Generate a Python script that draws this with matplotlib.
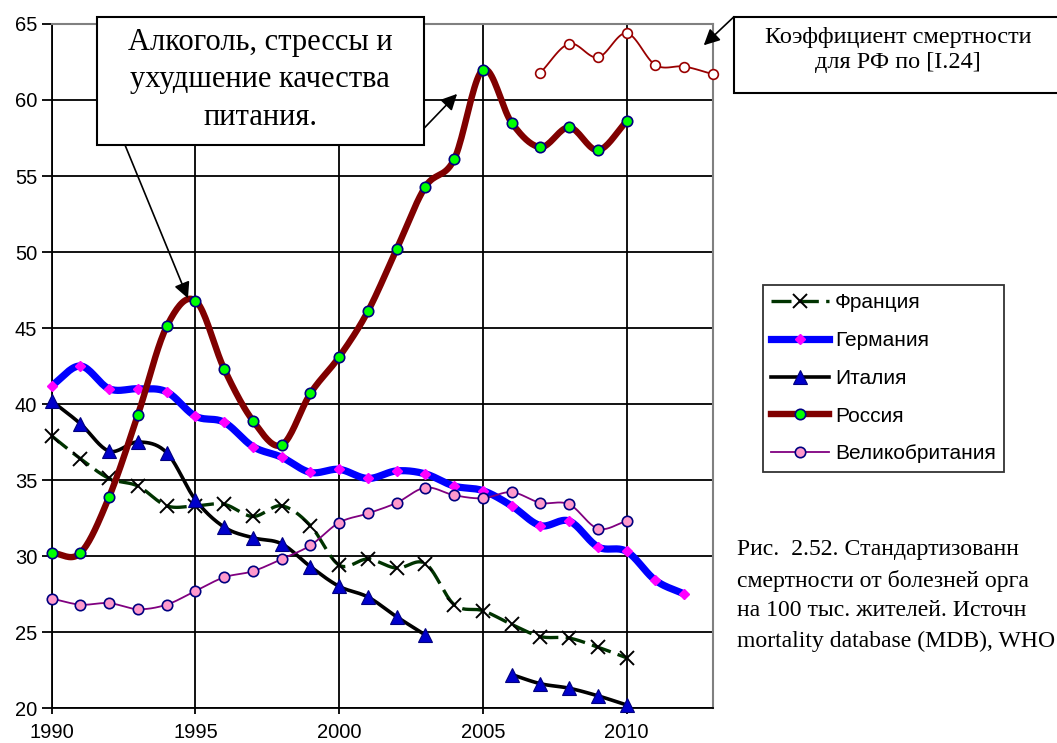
import numpy as np
import matplotlib
matplotlib.use("Agg")
import matplotlib.pyplot as plt
from matplotlib.patches import Rectangle
from matplotlib.lines import Line2D

# ---------------------------------------------------------------- data
years = list(range(1990, 2011))
years_de = list(range(1990, 2013))
france = [37.9, 36.4, 35.1, 34.6, 33.3, 33.3, 33.4, 32.6, 33.3, 32.0, 29.4,
          29.8, 29.2, 29.5, 26.8, 26.4, 25.5, 24.7, 24.6, 24.0, 23.3]
germany = [41.2, 42.5, 41.0, 41.0, 40.8, 39.2, 38.8, 37.2, 36.5, 35.5, 35.7,
           35.1, 35.6, 35.4, 34.6, 34.3, 33.3, 32.0, 32.3, 30.6, 30.3,
           28.4, 27.5]
italy = [40.2, 38.7, 36.9, 37.5, 36.8, 33.7, 31.9, 31.2, 30.8, 29.3, 28.0,
         27.3, 26.0, 24.8, None, None, 22.2, 21.6, 21.3, 20.8, 20.2]
russia = [30.2, 30.2, 33.9, 39.3, 45.1, 46.8, 42.3, 38.9, 37.3, 40.7, 43.1,
          46.1, 50.2, 54.3, 56.1, 62.0, 58.5, 56.9, 58.2, 56.7, 58.6]
uk = [27.2, 26.8, 26.9, 26.5, 26.8, 27.7, 28.6, 29.0, 29.8, 30.7, 32.2,
      32.8, 33.5, 34.5, 34.0, 33.8, 34.2, 33.5, 33.4, 31.8, 32.3]
rf_years = list(range(2007, 2014))
rf_coef = [61.8, 63.7, 62.8, 64.4, 62.3, 62.2, 61.7]

labels = ["Франция", "Германия", "Италия", "Россия", "Великобритания"]


def segments(xs, ys):
    """Split a series at missing values."""
    seg_x, seg_y = [], []
    for x, y in zip(xs, ys):
        if y is None:
            if seg_x:
                yield seg_x, seg_y
            seg_x, seg_y = [], []
        else:
            seg_x.append(x)
            seg_y.append(y)
    if seg_x:
        yield seg_x, seg_y


def smooth(xs, ys, n=20):
    """Catmull-Rom curve through the points (like Excel's smoothed line)."""
    x = np.asarray(xs, float)
    y = np.asarray(ys, float)
    if len(x) < 3:
        return x, y
    px = np.concatenate([[2 * x[0] - x[1]], x, [2 * x[-1] - x[-2]]])
    py = np.concatenate([[2 * y[0] - y[1]], y, [2 * y[-1] - y[-2]]])
    t = np.linspace(0, 1, n, endpoint=False)[:, None]
    out = []
    for i in range(1, len(px) - 2):
        p = np.array([[px[j], py[j]] for j in range(i - 1, i + 3)])
        seg = 0.5 * (2 * p[1] + (-p[0] + p[2]) * t
                     + (2 * p[0] - 5 * p[1] + 4 * p[2] - p[3]) * t ** 2
                     + (-p[0] + 3 * p[1] - 3 * p[2] + p[3]) * t ** 3)
        out.append(seg)
    out.append(np.array([[x[-1], y[-1]]]))
    out = np.vstack(out)
    return out[:, 0], out[:, 1]


def draw(ax, xs, ys, line_kw, marker_kw):
    for sx, sy in segments(xs, ys):
        cx, cy = smooth(sx, sy)
        ax.plot(cx, cy, solid_capstyle="round", **line_kw)
        ax.plot(sx, sy, ls="none", clip_on=False, **marker_kw)


# ---------------------------------------------------------------- styles
FR_LINE = dict(color="#003300", lw=2.4, ls=(0, (6, 2.2)), zorder=3)
FR_MARK = dict(marker="x", ms=9.5, mew=1.4, color="black", zorder=3.1)
DE_LINE = dict(color="#0000ff", lw=5.2, zorder=4)
DE_MARK = dict(marker="D", ms=5.5, color="#ff00ff", mec="#ff00ff", zorder=4.1)
IT_LINE = dict(color="black", lw=2.6, zorder=5)
IT_MARK = dict(marker="^", ms=9.5, color="#0000cc", mec="#000080", mew=0.8,
               zorder=5.1)
RU_LINE = dict(color="#800000", lw=4.6, zorder=6)
RU_MARK = dict(marker="o", ms=7.5, color="#00ff00", mec="#000080", mew=1.2,
               zorder=6.1)
UK_LINE = dict(color="#800080", lw=1.3, zorder=7)
UK_MARK = dict(marker="o", ms=7.5, color="#ff99cc", mec="#000080", mew=1.2,
               zorder=7.1)
RF_LINE = dict(color="#990000", lw=1.3, zorder=6)
RF_MARK = dict(marker="o", ms=7, color="white", mec="#990000", mew=1.2,
               zorder=6.1)

SANS = "Liberation Sans"
SERIF = "Liberation Serif"

fig = plt.figure(figsize=(10.57, 7.43), dpi=100)
fig.patch.set_facecolor("white")
ax = fig.add_axes([0.0489, 0.0471, 0.6256, 0.9206])

draw(ax, years, france, FR_LINE, FR_MARK)
draw(ax, years_de, germany, DE_LINE, DE_MARK)
draw(ax, years, italy, IT_LINE, IT_MARK)
draw(ax, years, russia, RU_LINE, RU_MARK)
draw(ax, years, uk, UK_LINE, UK_MARK)
draw(ax, rf_years, rf_coef, RF_LINE, RF_MARK)

ax.set_xlim(1990, 2013)
ax.set_ylim(20, 65)
ax.set_xticks(range(1990, 2011, 5))
ax.set_yticks(range(20, 66, 5))
ax.grid(True, color="black", lw=1.3, zorder=1)
ax.set_axisbelow(True)
for side in ("left", "bottom"):
    ax.spines[side].set_color("black")
    ax.spines[side].set_linewidth(1.3)
for side in ("top", "right"):
    ax.spines[side].set_color("#808080")
    ax.spines[side].set_linewidth(1.5)
ax.tick_params(axis="y", length=7, width=1.3, pad=3.5, labelsize=14.5)
ax.tick_params(axis="x", length=4.5, width=1.3, pad=6, labelsize=14.5)
for lab in ax.get_xticklabels() + ax.get_yticklabels():
    lab.set_fontfamily(SANS)

# ---------------------------------------------------------------- legend
handles = [
    Line2D([], [], **{k: v for k, v in FR_LINE.items() if k != "zorder"},
           marker="x", ms=9.5, mew=1.4, mec="black"),
    Line2D([], [], color=DE_LINE["color"], lw=DE_LINE["lw"], marker="D",
           ms=5.5, mfc="#ff00ff", mec="#ff00ff"),
    Line2D([], [], color="black", lw=2.6, marker="^", ms=9.5, mfc="#0000cc",
           mec="#000080", mew=0.8),
    Line2D([], [], color=RU_LINE["color"], lw=RU_LINE["lw"], marker="o",
           ms=7.5, mfc="#00ff00", mec="#000080", mew=1.2),
    Line2D([], [], color=UK_LINE["color"], lw=UK_LINE["lw"], marker="o",
           ms=7.5, mfc="#ff99cc", mec="#000080", mew=1.2),
]
leg = fig.legend(handles, labels, loc="upper left",
                 bbox_to_anchor=(763 / 1057, 1 - 285 / 743),
                 prop=dict(family=SANS, size=15), frameon=True,
                 fancybox=False, edgecolor="black", handlelength=2.75,
                 handletextpad=0.3, labelspacing=0.9, borderpad=0.4,
                 borderaxespad=0, numpoints=1)
leg.get_frame().set_linewidth(1.3)

# ---------------------------------------------------------------- callouts
fig.patches.append(Rectangle((96.7 / 1057, 1 - 145 / 743),
                             (423.9 - 96.7) / 1057, (145 - 16.7) / 743,
                             transform=fig.transFigure, facecolor="white",
                             edgecolor="black", lw=1.5, zorder=10))
fig.text(260 / 1057, 1 - 80 / 743,
         "Алкоголь, стрессы и\nухудшение качества\nпитания.",
         ha="center", va="center", family=SERIF, size=22, linespacing=1.4,
         zorder=11)

fig.patches.append(Rectangle((734 / 1057, 1 - 93.3 / 743),
                             0.4, (93.3 - 16.7) / 743,
                             transform=fig.transFigure, facecolor="white",
                             edgecolor="black", lw=1.5, zorder=10))
fig.text(898 / 1057, 1 - 50 / 743, "Коэффициент смертности\nдля РФ по [I.24]",
         ha="center", va="center", family=SERIF, size=17.5, linespacing=1.3,
         zorder=11)

arrow = dict(arrowstyle="-|>", color="black", lw=1.2, mutation_scale=24,
             shrinkA=0, shrinkB=0)
ax.annotate("", xy=(1994.74, 46.95), xycoords="data",
            xytext=(125 / 1057, 1 - 145 / 743), textcoords="figure fraction",
            arrowprops=arrow, annotation_clip=False, zorder=9)
ax.annotate("", xy=(2004.1, 60.4), xycoords="data",
            xytext=(424 / 1057, 1 - 128.3 / 743), textcoords="figure fraction",
            arrowprops=arrow, annotation_clip=False, zorder=9)
ax.annotate("", xy=(2012.68, 63.6), xycoords="data",
            xytext=(734 / 1057, 1 - 16.7 / 743), textcoords="figure fraction",
            arrowprops=arrow, annotation_clip=False, zorder=9)

# ---------------------------------------------------------------- caption
caption = ["Рис.  2.52. Стандартизованн",
           "смертности от болезней орга",
           "на 100 тыс. жителей. Источн",
           "mortality database (MDB), WHO"]
for i, line in enumerate(caption):
    fig.text(736.7 / 1057, 1 - (550 + 30.5 * i) / 743, line,
             ha="left", va="center", family=SERIF, size=17.1)

fig.savefig("out.png", dpi=100, facecolor="white")
